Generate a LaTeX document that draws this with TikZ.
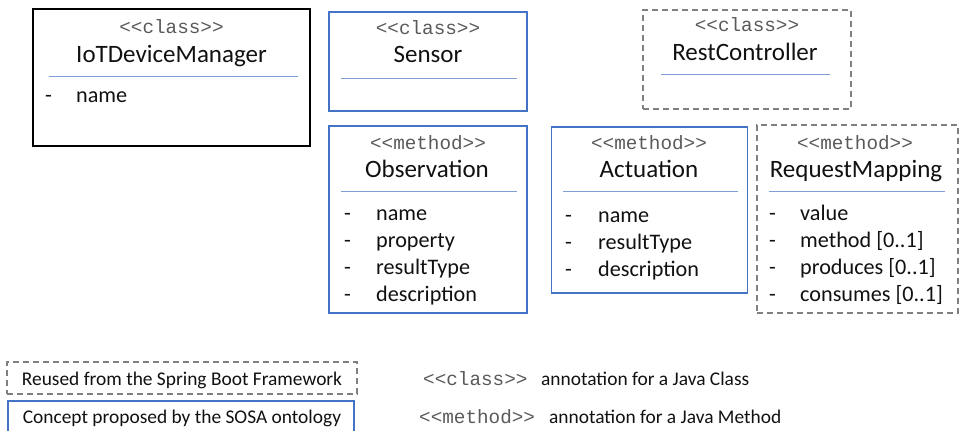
\documentclass[tikz,border=0pt]{standalone}
\usepackage{fontspec}
\setmainfont{Carlito}
\setmonofont{Liberation Mono}
\definecolor{boxblue}{HTML}{4472C4}
\definecolor{rulelight}{HTML}{7F9FD4}
\definecolor{dashgray}{HTML}{7F7F7F}
\definecolor{stereo}{HTML}{5A5A5A}
\definecolor{inktext}{HTML}{111111}
\begin{document}
\begin{tikzpicture}[x=1pt,y=-1pt,
  box/.style={rectangle,minimum width=#1,inner sep=0pt},
  blackbox/.style={draw=black,line width=2pt},
  sosabox/.style={draw=boxblue,line width=1.8pt},
  springbox/.style={draw=dashgray,line width=1.6pt,dash pattern=on 6pt off 4pt},
  sep/.style={draw=rulelight,line width=1pt},
  stereotype/.style={font=\fontsize{19.3}{22}\ttfamily,text=stereo,inner sep=0pt,text height=0.62em,text depth=0.1em,yshift=-4pt},
  title/.style={font=\fontsize{25}{29}\selectfont,text=inktext,inner sep=0pt,text height=0.7em,text depth=0.2em,yshift=-5pt},
  item/.style={font=\fontsize{22.2}{26}\selectfont,text=inktext,inner sep=0pt,anchor=west,text height=0.7em,text depth=0.2em,yshift=-5pt},
  legendtext/.style={font=\fontsize{19.4}{23}\selectfont,text=inktext,inner sep=0pt,text height=0.7em,text depth=0.2em,yshift=-4pt},
]
\useasboundingbox (0,0) rectangle (962,431);

% ---- IoTDeviceManager
\node[blackbox,box=277pt,minimum height=137pt] (mgr) at (171.5,77.5) {};
\node[stereotype] (mgrst) at (171.5,27) {<<class>>};
\node[title] (mgrti) at (171.5,55) {IoTDeviceManager};
\draw[sep] (49,76) -- (298,76);
\node[item] (mgrd1) at (45,95) {-};
\node[item] (mgri1) at (76,95) {name};

% ---- Sensor
\node[sosabox,box=198pt,minimum height=99pt] (sen) at (428,61.5) {};
\node[stereotype] (senst) at (428,28) {<<class>>};
\node[title] (senti) at (428,55) {Sensor};
\draw[sep] (341,78) -- (517,78);

% ---- RestController
\node[springbox,box=208pt,minimum height=99pt] (rest) at (747,59.5) {};
\node[stereotype] (restst) at (747,25) {<<class>>};
\node[title] (restti) at (745,53) {RestController};
\draw[sep] (661,74) -- (830,74);

% ---- Observation
\node[sosabox,box=198pt,minimum height=187pt] (obs) at (428,219.5) {};
\node[stereotype] (obsst) at (428,143) {<<method>>};
\node[title] (obsti) at (427,170) {Observation};
\draw[sep] (341,191) -- (517,191);
\foreach \t [count=\i] in {name,property,resultType,description}{
  \node[item] (obsd\i) at (344,{186+27*\i}) {-};
  \node[item] (obsi\i) at (376,{186+27*\i}) {\t};
}

% ---- Actuation
\node[sosabox,box=196pt,minimum height=166pt] (act) at (649.5,210) {};
\node[stereotype] (actst) at (649,143) {<<method>>};
\node[title] (actti) at (649,170) {Actuation};
\draw[sep] (563,191) -- (738,191);
\foreach \t [count=\i] in {name,resultType,description}{
  \node[item] (actd\i) at (565,{187.5+27*\i}) {-};
  \node[item] (acti\i) at (598,{187.5+27*\i}) {\t};
}

% ---- RequestMapping
\node[springbox,box=201pt,minimum height=188pt] (req) at (857.5,219) {};
\node[stereotype] (reqst) at (855,143) {<<method>>};
\node[title] (reqti) at (856,170) {RequestMapping};
\draw[sep] (769,191) -- (945,191);
\foreach \t [count=\i] in {value,method [0..1],produces [0..1],consumes [0..1]}{
  \node[item] (reqd\i) at (769,{186+27*\i}) {-};
  \node[item] (reqi\i) at (800,{186+27*\i}) {\t};
}

% ---- Legend
\node[springbox,box=350pt,minimum height=32pt] (legspring) at (182,378) {};
\node[legendtext] (legspringt) at (182,379) {Reused from the Spring Boot Framework};
\node[sosabox,box=346pt,minimum height=40pt] (legsosa) at (181,421) {};
\node[legendtext] (legsosat) at (182,417) {Concept proposed by the SOSA ontology};

\node[stereotype,anchor=west] (legclass) at (423,379) {<<class>>};
\node[legendtext,anchor=west] (legclasst) at (541,379) {annotation for a Java Class};
\node[stereotype,anchor=west] (legmeth) at (419,417) {<<method>>};
\node[legendtext,anchor=west] (legmetht) at (549,417) {annotation for a Java Method};
\end{tikzpicture}
\end{document}
